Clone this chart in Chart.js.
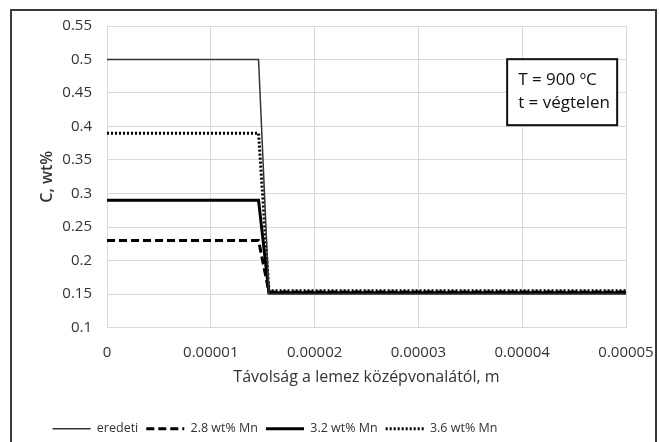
<!DOCTYPE html>
<html>
<head>
<meta charset="utf-8">
<script src="https://cdn.jsdelivr.net/npm/chart.js@4"></script>
<style>
  html, body { margin: 0; padding: 0; background: #fff; }
  #wrap { width: 659px; height: 442px; }
</style>
</head>
<body>
<div id="wrap"><canvas id="chart"></canvas></div>
<script>
// distance from the plate centre line (m)
const xPoints = [0, 0.0000146, 0.0000156, 0.00005];

// carbon content (wt%) for each case
const eredeti = [0.5, 0.5, 0.15, 0.15];
const mn28 = [0.23, 0.23, 0.153, 0.153];
const mn32 = [0.29, 0.29, 0.152, 0.152];
const mn36 = [0.39, 0.39, 0.155, 0.155];

const seriesLabels = ['eredeti', '2.8 wt% Mn', '3.2 wt% Mn', '3.6 wt% Mn'];
const xTickLabels = ['0', '0.00001', '0.00002', '0.00003', '0.00004', '0.00005'];
const boxLines = ['T = 900 \u00baC', 't = v\u00e9gtelen'];

const FONT = 'Open Sans';
const TEXT = '#333';
const GRID = '#d9d9d9';

const toPts = ys => ys.map((y, i) => ({ x: xPoints[i], y: y }));

// frame around the whole figure + the T / t box
const decor = {
  id: 'decor',
  afterLayout(chart) {
    // Excel centres the legend a bit to the left and lower
    chart.legend.left -= 38;
    chart.legend.right -= 38;
    chart.legend.top += 3;
    chart.legend.bottom += 3;
  },
  afterDraw(chart) {
    const { ctx, chartArea: a } = chart;
    ctx.save();
    ctx.strokeStyle = '#3a3a3a';
    ctx.lineWidth = 2;
    ctx.beginPath();
    ctx.moveTo(11, 442);
    ctx.lineTo(11, 10);
    ctx.lineTo(656, 10);
    ctx.lineTo(656, 442);
    ctx.stroke();

    // annotation box
    const bx = a.left + (a.right - a.left) * 0.771;
    const by = a.top + (a.bottom - a.top) * 0.11;
    const bw = 110, bh = 66;
    ctx.fillStyle = '#fff';
    ctx.fillRect(bx, by, bw, bh);
    ctx.strokeStyle = '#111';
    ctx.lineWidth = 2;
    ctx.strokeRect(bx, by, bw, bh);
    ctx.fillStyle = '#111';
    ctx.font = '17px "' + FONT + '"';
    ctx.textBaseline = 'middle';
    ctx.fillText(boxLines[0], bx + 11, by + 21);
    ctx.fillText(boxLines[1], bx + 11, by + 44);
    ctx.restore();
  }
};

new Chart(document.getElementById('chart'), {
  type: 'line',
  data: {
    datasets: [
      {
        label: seriesLabels[0],
        data: toPts(eredeti),
        borderColor: '#333',
        borderWidth: 1.5
      },
      {
        label: seriesLabels[1],
        data: toPts(mn28),
        borderColor: '#000',
        borderWidth: 3,
        borderDash: [8, 4]
      },
      {
        label: seriesLabels[2],
        data: toPts(mn32),
        borderColor: '#000',
        borderWidth: 3
      },
      {
        label: seriesLabels[3],
        data: toPts(mn36),
        borderColor: '#000',
        borderWidth: 3,
        borderDash: [2, 2]
      }
    ]
  },
  options: {
    responsive: true,
    maintainAspectRatio: false,
    animation: false,
    elements: { point: { radius: 0 }, line: { tension: 0 } },
    layout: { padding: { top: 26, right: 33, left: 0, bottom: 0 } },
    plugins: {
      tooltip: { enabled: false },
      legend: {
        position: 'bottom',
        labels: {
          usePointStyle: true,
          pointStyle: 'line',
          pointStyleWidth: 38,
          boxHeight: 12,
          padding: 8,
          color: TEXT,
          font: { family: FONT, size: 12.5 },
          generateLabels(chart) {
            const items = Chart.defaults.plugins.legend.labels.generateLabels(chart);
            items.forEach(it => {
              const ds = chart.data.datasets[it.datasetIndex];
              it.lineDash = ds.borderDash || [];
              it.lineWidth = ds.borderWidth;
              it.strokeStyle = ds.borderColor;
            });
            return items;
          }
        }
      }
    },
    scales: {
      x: {
        type: 'linear',
        min: 0,
        max: 0.00005,
        afterFit(s) {
          s.height = 84;
          s.paddingLeft = 0;
          s.paddingRight = 0;
        },
        afterBuildTicks(s) {
          s.ticks = xTickLabels.map(t => ({ value: parseFloat(t) }));
        },
        ticks: {
          padding: 16,
          color: TEXT,
          font: { family: FONT, size: 15 },
          maxRotation: 0,
          callback: (v, i) => xTickLabels[i]
        },
        grid: { color: GRID, lineWidth: 1, drawTicks: false },
        border: { color: GRID },
        title: {
          display: true,
          text: 'Távolság a lemez középvonalától, m',
          color: TEXT,
          font: { family: FONT, size: 16 },
          padding: { top: 0, bottom: 24 }
        }
      },
      y: {
        min: 0.1,
        max: 0.55,
        afterFit(s) {
          s.width = 107;
          s.paddingTop = 0;
          s.paddingBottom = 0;
        },
        ticks: {
          stepSize: 0.05,
          padding: 15,
          color: TEXT,
          font: { family: FONT, size: 15 },
          callback: v => String(+v.toFixed(2))
        },
        grid: { color: GRID, lineWidth: 1, drawTicks: false },
        border: { color: GRID },
        title: {
          display: true,
          text: 'C, wt%',
          color: TEXT,
          font: { family: FONT, size: 16, weight: '600' },
          padding: { top: 38, bottom: 0 }
        }
      }
    }
  },
  plugins: [decor]
});
</script>
</body>
</html>
